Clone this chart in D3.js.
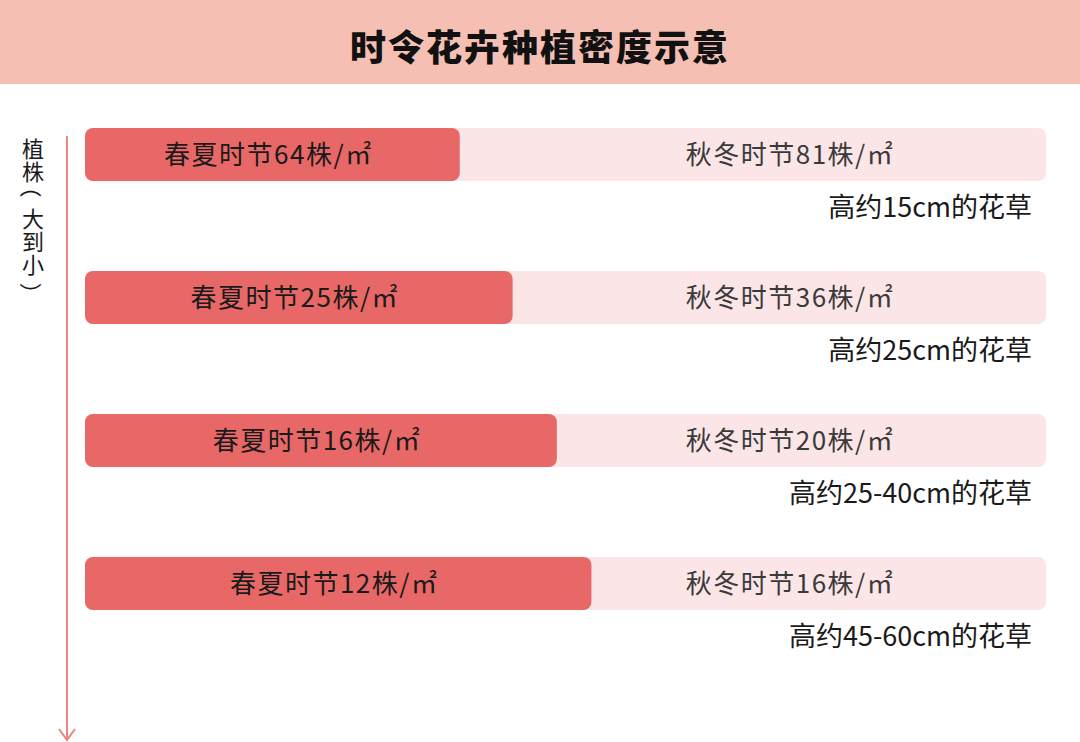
<!DOCTYPE html>
<html><head><meta charset="utf-8">
<script src="https://cdn.jsdelivr.net/npm/d3@7"></script>
<style>
html,body{margin:0;padding:0;background:#fff;}
svg{display:block;font-family:"Noto Sans CJK SC","Noto Sans",sans-serif;}
</style></head>
<body>
<script>
// ---- data ----
const title = "时令花卉种植密度示意";
const axisLabel = ["植","株","（","大","到","小","）"]; // 植株（大到小）, written top to bottom
const categories = ["高约15cm的花草","高约25cm的花草","高约25-40cm的花草","高约45-60cm的花草"];
const springSummer = [64, 25, 16, 12];
const autumnWinter = [81, 36, 20, 16];
const springShare = [0.39, 0.445, 0.491, 0.527]; // share of the bar drawn in dark red

const W = 1080, H = 742;
const svg = d3.select("body").append("svg").attr("width", W).attr("height", H);

// title band
svg.append("rect").attr("x",0).attr("y",0).attr("width",W).attr("height",84).attr("fill","#f6bfb3");
svg.append("text").attr("x",W/2).attr("y",61).attr("text-anchor","middle")
  .attr("font-size",36).attr("font-weight",900).attr("letter-spacing",2).attr("fill","#111")
  .text(title);

// scales
const x = d3.scaleLinear().domain([0,1]).range([85,1046]);
const y = d3.scalePoint().domain(categories).range([128,557]);
const bh = 53;

const rows = categories.map((c,i)=>({c, s:springSummer[i], a:autumnWinter[i], share:springShare[i]}));

const g = svg.append("g");
const row = g.selectAll("g.row").data(rows).join("g").attr("class","row");

row.append("rect").attr("x",x(0)).attr("y",d=>y(d.c)).attr("width",x(1)-x(0)).attr("height",bh)
  .attr("rx",8).attr("fill","#fbe5e7");
row.append("rect").attr("x",x(0)).attr("y",d=>y(d.c)).attr("width",d=>x(d.share)-x(0)).attr("height",bh)
  .attr("rx",8).attr("fill","#e86867");

row.append("text").attr("x",d=>(x(0)+x(d.share))/2 - 4).attr("y",d=>y(d.c)+bh/2+9)
  .attr("text-anchor","middle").attr("font-size",26).attr("letter-spacing",1.5).attr("fill","#1a1a1a")
  .text(d=>`春夏时节${d.s}株/㎡`);
row.append("text").attr("x",790).attr("y",d=>y(d.c)+bh/2+9)
  .attr("text-anchor","middle").attr("font-size",26).attr("letter-spacing",1.5).attr("fill","#3a3a3a")
  .text(d=>`秋冬时节${d.a}株/㎡`);
row.append("text").attr("x",1032).attr("y",d=>y(d.c)+bh+36)
  .attr("text-anchor","end").attr("font-size",27).attr("fill","#1a1a1a")
  .text(d=>d.c);

// vertical axis arrow
const ac = "#eb8585";
svg.append("line").attr("x1",67).attr("x2",67).attr("y1",136).attr("y2",740)
  .attr("stroke",ac).attr("stroke-width",2);
svg.append("path").attr("d","M59,729 L67,740 L75,729").attr("fill","none")
  .attr("stroke",ac).attr("stroke-width",2);

// vertical label: ordinary characters in one text, brackets rotated into vertical form
const vy = i => 147 + i*23.2;
const isBracket = ch => ch === "（" || ch === "）";
const bracketShift = ch => ch === "（" ? -7 : 7.5;
const lab = svg.append("text").attr("font-size",22).attr("fill","#1a1a1a")
  .attr("text-anchor","middle").attr("dominant-baseline","central");
lab.selectAll("tspan").data(axisLabel.map((ch,i)=>({ch,i})).filter(d=>!isBracket(d.ch))).join("tspan")
  .attr("x",33).attr("y",d=>vy(d.i)).text(d=>d.ch);
svg.append("g").selectAll("text").data(axisLabel.map((ch,i)=>({ch,i})).filter(d=>isBracket(d.ch))).join("text")
  .attr("x",33).attr("y",d=>vy(d.i)+bracketShift(d.ch)).attr("font-size",22).attr("fill","#1a1a1a")
  .attr("text-anchor","middle").attr("dominant-baseline","central")
  .attr("transform",d=>`rotate(90,33,${vy(d.i)+bracketShift(d.ch)})`).text(d=>d.ch);
</script>
</body></html>
